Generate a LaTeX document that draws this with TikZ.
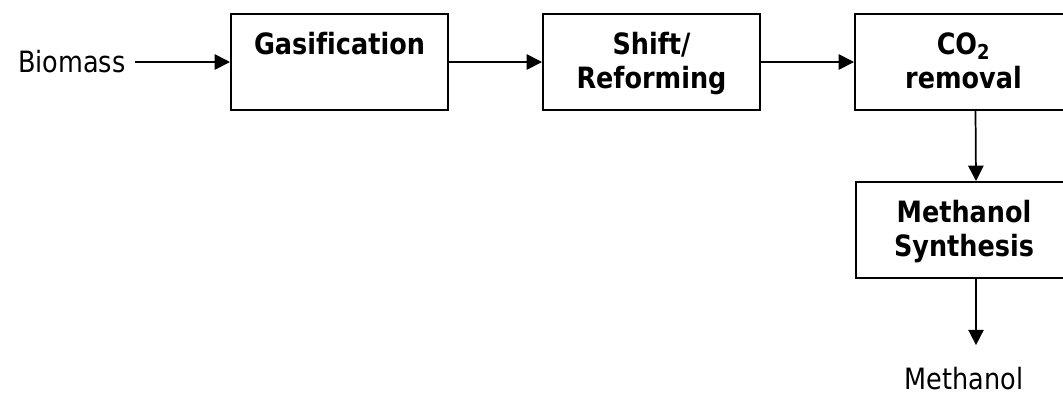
\documentclass[tikz,border=0pt]{standalone}
\usepackage{fontspec}
\setmainfont{DejaVu Sans}[FakeStretch=0.87,Ligatures=NoCommon]
\usetikzlibrary{arrows.meta}

\begin{document}
\begin{tikzpicture}[x=0.75pt,y=-0.75pt,
        procbox/.style={draw,line width=1.5pt,minimum width=162.75pt,text width=150pt,align=center,
            inner xsep=0pt,inner ysep=0pt,text height=30pt,text depth=42pt,
            font=\bfseries\fontsize{22}{25.5}\selectfont},
        stream/.style={inner sep=1pt,font=\fontsize{22}{25}\selectfont},
        flow/.style={line width=1.3pt,-{Triangle[length=11.5pt,width=11.5pt]}}
    ]
    \clip (0,0) rectangle (1063,394);
    \node [procbox] (gasif) at (339.5,62) {Gasification};
    \node [procbox] (shift) at (651.5,62) {Shift/\\Reforming};
    \node [procbox] (co2) at (963.5,62) {CO\textsubscript{2}\\removal};
    \node [procbox] (synth) at (964,230) {Methanol\\Synthesis};
    \node [stream,anchor=east] (biomass) at (127,62) {Biomass};
    \node [stream,anchor=base] (methanol) at (964,389) {Methanol};
    \draw [flow,shorten <=6pt] (biomass.east) -- (gasif.west);
    \draw [flow] (gasif.east) -- (shift.west);
    \draw [flow] (shift.east) -- (co2.west);
    \draw [flow] ([xshift=9pt]co2.south) -- ([xshift=9pt]synth.north);
    \draw [flow,shorten >=15pt] ([xshift=9pt]synth.south) -- ([xshift=9pt]methanol.north);
\end{tikzpicture}
\end{document}
